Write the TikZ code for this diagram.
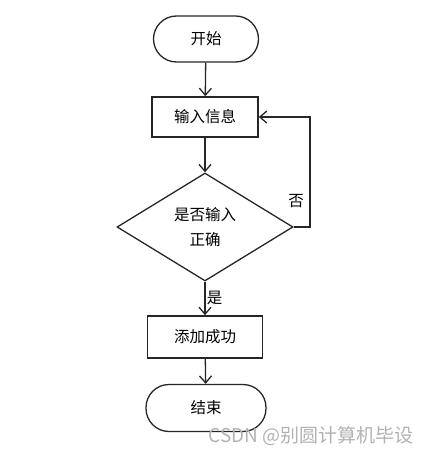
\documentclass[tikz,border=0pt]{standalone}
\usepackage{fontspec}
\setmainfont{Noto Sans CJK SC}
\usetikzlibrary{shapes.geometric,arrows.meta}
\colorlet{box edge}{black!85}
\colorlet{mark gray}{black!30}
\tikzset{terminal/.style={draw=box edge, line width=1.3pt, rounded corners=23pt, minimum width=105pt, minimum height=46pt},
	process/.style={draw=box edge, line width=1.6pt, minimum width=106pt, minimum height=40pt},
	decision/.style={draw=box edge, line width=1.3pt, diamond, aspect=1.63, inner sep=0pt, minimum width=176pt, minimum height=108pt, align=center},
	flow/.style={draw=box edge, line width=1.3pt, -{Straight Barb[length=7pt,width=12pt]}}}

\begin{document}
\begin{tikzpicture}[x=1pt, y=-1pt, font=\fontsize{15.5}{25}\selectfont]
		\useasboundingbox (0,0) rectangle (433,454);
		\node[terminal] (start) at (206,39) {开始};
		\node[process] (input) at (205,117) {输入信息};
		\node[decision] (check) at (205,227) {是否输入\\正确};
		\node[process, minimum width=115pt, minimum height=42pt] (done) at (205,337) {添加成功};
		\node[terminal, minimum width=120pt, minimum height=47pt] (stop) at (206,408) {结束};
		
		\draw[flow] (start) -- (input);
		\draw[flow] (input) -- (check);
		\draw[flow] (check.south) -- node[right, xshift=-2pt] {是} (done);
		\draw[flow] (check.east) -- (310,227) -- (310,117) -- (input.east);
		\node (no) at (296,201) {否};
		\draw[flow] (done) -- (stop);
		\node[text=mark gray, font=\fontsize{19}{22}\selectfont] (mark) at (311,436) {CSDN @别圆计算机毕设};
		\end{tikzpicture}
\end{document}
